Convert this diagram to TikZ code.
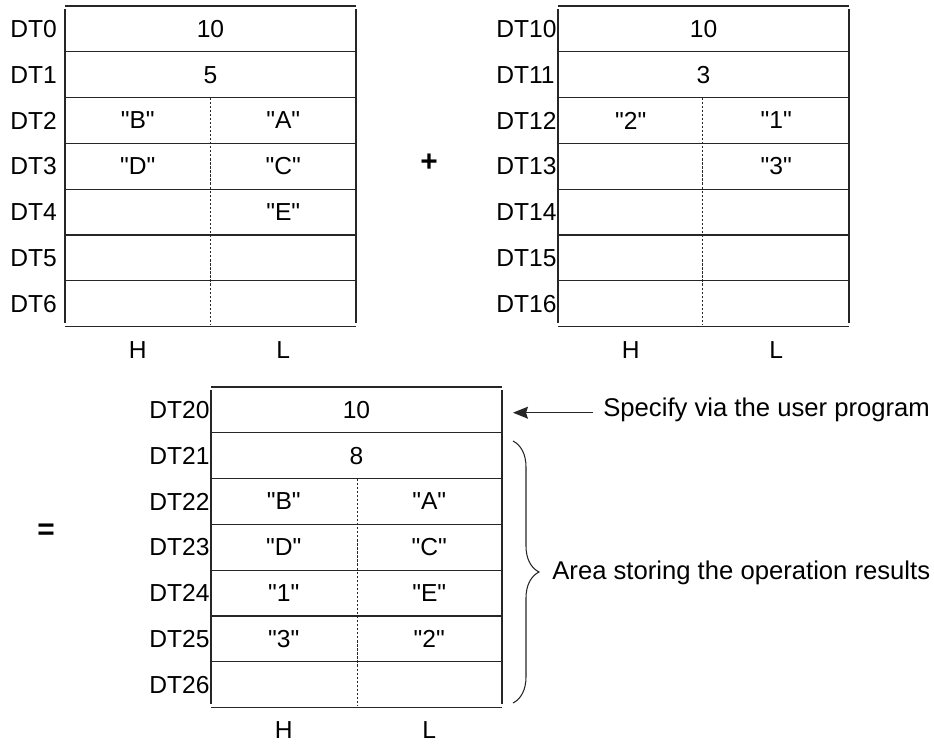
\documentclass[tikz,border=0pt]{standalone}
\usepackage{fontspec}
\setmainfont{Liberation Sans}[Ligatures=TeXOff]
\usetikzlibrary{arrows.meta,positioning,decorations.pathreplacing}
\tikzset{
  regline/.style={line width=0.6pt, draw=black!85},
  halfline/.style={line width=0.5pt, draw=black!85, dash pattern=on 1.3pt off 1pt},
  reglabel/.style={anchor=west, inner sep=0pt},
  cell/.style={inner sep=0pt},
  opsign/.style={inner sep=0pt, font=\fontsize{17}{20}\selectfont\bfseries},
  note/.style={anchor=base west, inner sep=0pt, font=\fontsize{14.6}{17}\selectfont},
  notearrow/.style={-{Stealth[length=0.3cm, width=0.24cm, inset=0.04cm]}, line width=0.6pt, draw=black!85, fill=black!85},
  resbrace/.style={decorate, decoration={brace, amplitude=0.52cm}, line width=0.6pt, draw=black!85}
}

\begin{document}
\begin{tikzpicture}[x=0.02cm, y=-0.02cm, font=\fontsize{14}{17}\selectfont]
  \useasboundingbox (0,0) rectangle (934,744);

  % first operand
  \begin{scope}[shift={(65,6)}]
    \foreach \r in {0,...,7} \draw[regline] (0,\r*45.8) -- (291,\r*45.8);
    \draw[regline] (0,3) -- (0,316.6) (291,3) -- (291,316.6);
    \draw[halfline] (145.5,91.6) -- (145.5,318);
    \foreach \r in {0,...,6} \node[reglabel] (a\r) at (-55,22.9+\r*45.8) {DT\r};
    \node[cell] (am0) at (145.5,22.9) {10};
    \node[cell] (am1) at (145.5,68.7) {5};
    \node[cell] (ah2) at (72.75,114.5) {"B"};
    \node[cell] (al2) at (218.25,114.5) {"A"};
    \node[cell] (ah3) at (72.75,160.3) {"D"};
    \node[cell] (al3) at (218.25,160.3) {"C"};
    \node[cell] (al4) at (218.25,206.1) {"E"};
    \node[cell] (ah) at (72.75,344) {H};
    \node[cell] (al) at (218.25,344) {L};
  \end{scope}

  \node[opsign] (plus) at (429,163) {+};

  % second operand
  \begin{scope}[shift={(558,6)}]
    \foreach \r in {0,...,7} \draw[regline] (0,\r*45.8) -- (291,\r*45.8);
    \draw[regline] (0,3) -- (0,316.6) (291,3) -- (291,316.6);
    \draw[halfline] (144.5,91.6) -- (144.5,318);
    \foreach \r in {0,...,6} \node[reglabel] (b\r) at (-62,22.9+\r*45.8) {DT1\r};
    \node[cell] (bm0) at (145.5,22.9) {10};
    \node[cell] (bm1) at (145.5,68.7) {3};
    \node[cell] (bh2) at (72.75,114.5) {"2"};
    \node[cell] (bl2) at (218.25,114.5) {"1"};
    \node[cell] (bl3) at (218.25,160.3) {"3"};
    \node[cell] (bh) at (72.75,344) {H};
    \node[cell] (bl) at (218.25,344) {L};
  \end{scope}

  \node[opsign] (equals) at (46,532) {=};

  % result
  \begin{scope}[shift={(211,387)}]
    \foreach \r in {0,...,7} \draw[regline] (0,\r*45.8) -- (291,\r*45.8);
    \draw[regline] (0,3) -- (0,316.6) (291,3) -- (291,316.6);
    \draw[halfline] (146,91.6) -- (146,318);
    \foreach \r in {0,...,6} \node[reglabel] (c\r) at (-62,22.9+\r*45.8) {DT2\r};
    \node[cell] (cm0) at (145.5,22.9) {10};
    \node[cell] (cm1) at (145.5,68.7) {8};
    \node[cell] (ch2) at (72.75,114.5) {"B"};
    \node[cell] (cl2) at (218.25,114.5) {"A"};
    \node[cell] (ch3) at (72.75,160.3) {"D"};
    \node[cell] (cl3) at (218.25,160.3) {"C"};
    \node[cell] (ch4) at (72.75,206.1) {"1"};
    \node[cell] (cl4) at (218.25,206.1) {"E"};
    \node[cell] (ch5) at (72.75,251.9) {"3"};
    \node[cell] (cl5) at (218.25,251.9) {"2"};
    \node[cell] (ch) at (72.75,343) {H};
    \node[cell] (cl) at (218.25,343) {L};
  \end{scope}

  % notes
  \node[note] (spec) at (603,416) {Specify via the user program};
  \coordinate (spectip) at (513,412.7);
  \draw[notearrow, shorten <=0.2cm] (spec.west |- spectip) -- (spectip);
  \coordinate (bracetop) at (513,441);
  \coordinate (bracebot) at (513,703);
  \draw[resbrace] (bracetop) -- (bracebot);
  \node[note] (area) at (552,579) {Area storing the operation results};
\end{tikzpicture}
\end{document}
